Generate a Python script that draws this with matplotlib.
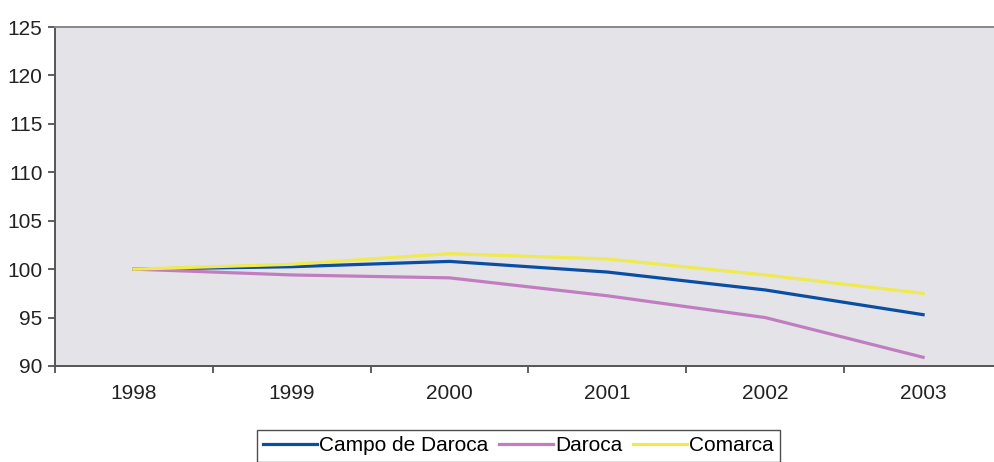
import matplotlib.pyplot as plt

# Datos
years = ['1998', '1999', '2000', '2001', '2002', '2003']
campo = [100, 100.25, 100.8, 99.7, 97.85, 95.3]
daroca = [100, 99.4, 99.1, 97.25, 95.0, 90.9]
comarca = [100, 100.5, 101.6, 101.05, 99.4, 97.5]

plt.rcParams['font.family'] = ['Liberation Sans', 'DejaVu Sans']

fig = plt.figure(figsize=(9.95, 4.62), dpi=100)
ax = fig.add_axes([55 / 995, 96 / 462, 947 / 995, 339 / 462])
ax.set_facecolor('#e4e3e8')

x = range(len(years))
ax.plot(x, campo, color='#0a4ea3', lw=2.3, label='Campo de Daroca')
ax.plot(x, daroca, color='#c07ec0', lw=2.3, label='Daroca')
ax.plot(x, comarca, color='#eeea50', lw=2.3, label='Comarca')

ax.set_xlim(-0.5, len(years) - 0.5)
ax.set_ylim(90, 125)
ax.set_yticks(range(90, 126, 5))
ax.set_xticks(list(x))
ax.set_xticklabels(years)
ax.set_xticks([i - 0.5 for i in range(len(years) + 1)], minor=True)
ax.tick_params(axis='x', which='major', length=0, pad=13, labelsize=15, colors='#222222')
ax.tick_params(axis='x', which='minor', length=5, width=1.2, color='#444444', direction='out')
ax.tick_params(axis='y', length=5, width=1.2, color='#444444', pad=4, labelsize=15, labelcolor='#222222')

for side in ['left', 'bottom']:
    ax.spines[side].set_color('#555555')
    ax.spines[side].set_linewidth(1.4)
ax.spines['top'].set_color('#888888')
ax.spines['top'].set_linewidth(1.4)
ax.spines['right'].set_visible(False)

leg = fig.legend(loc='upper left', bbox_to_anchor=(257 / 995, 1 - 430 / 462),
                 ncol=3, frameon=True, fancybox=False, shadow=False,
                 fontsize=15, handlelength=2.6, handletextpad=0.1,
                 columnspacing=0.5, borderpad=0.3, borderaxespad=0)
leg.get_frame().set_edgecolor('#222222')
leg.get_frame().set_linewidth(1.0)

fig.savefig('out.png', dpi=100)
